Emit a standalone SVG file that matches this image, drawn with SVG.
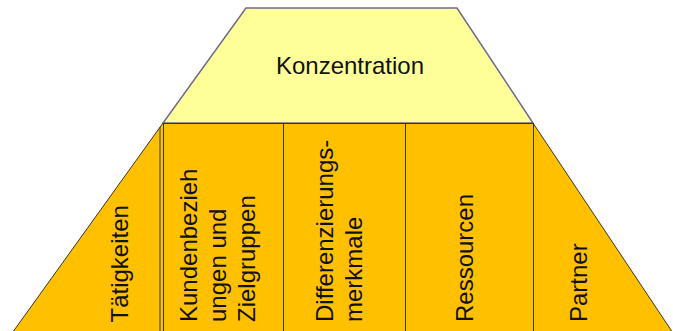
<svg xmlns="http://www.w3.org/2000/svg" width="673" height="331" viewBox="0 0 673 331">
<style>
.lbl{font-family:"Liberation Sans",Arial,sans-serif;font-size:24px;fill:#111;}
.org{fill:#FFC000;stroke:none;}
.edge{stroke:#3a3530;stroke-width:1;fill:none;}
</style>
<rect width="673" height="331" fill="#fff"/>
<g id="konzentration">
<polygon points="246,8 457,8 533,123 163,123" fill="#FFFF99" stroke="#6f6a8a" stroke-width="1.5"/>
<text class="lbl" x="350" y="74" text-anchor="middle">Konzentration</text>
</g>
<g id="taetigkeiten">
<polygon class="org" points="163,123 163,336 10,336"/>
<text class="lbl" transform="translate(128,322.5) rotate(-90)">Tätigkeiten</text>
</g>
<g id="kunden">
<rect class="org" x="163" y="123" width="120" height="213"/>
<text class="lbl" transform="translate(197,322) rotate(-90)">Kundenbezieh</text>
<text class="lbl" transform="translate(226,322) rotate(-90)">ungen und</text>
<text class="lbl" transform="translate(255,322) rotate(-90)">Zielgruppen</text>
</g>
<g id="differenzierung">
<rect class="org" x="283" y="123" width="122" height="213"/>
<text class="lbl" transform="translate(333,322) rotate(-90)">Differenzierungs-</text>
<text class="lbl" transform="translate(362,322) rotate(-90)">merkmale</text>
</g>
<g id="ressourcen">
<rect class="org" x="405" y="123" width="128" height="213"/>
<text class="lbl" transform="translate(473,322) rotate(-90)">Ressourcen</text>
</g>
<g id="partner">
<polygon class="org" points="533,123 675,336 533,336"/>
<text class="lbl" transform="translate(587,322) rotate(-90)">Partner</text>
</g>
<g id="connectors">
<line class="edge" x1="163" y1="123" x2="10" y2="336"/>
<line class="edge" x1="533" y1="123" x2="675" y2="336"/>
<line class="edge" x1="160" y1="127" x2="160" y2="336"/>
<line class="edge" x1="163.5" y1="123" x2="163.5" y2="336"/>
<line class="edge" x1="283.5" y1="123" x2="283.5" y2="336"/>
<line class="edge" x1="405.5" y1="123" x2="405.5" y2="336"/>
<line class="edge" x1="533.5" y1="123" x2="533.5" y2="336"/>
<line class="edge" x1="163" y1="123.5" x2="533" y2="123.5"/>
</g>
</svg>
